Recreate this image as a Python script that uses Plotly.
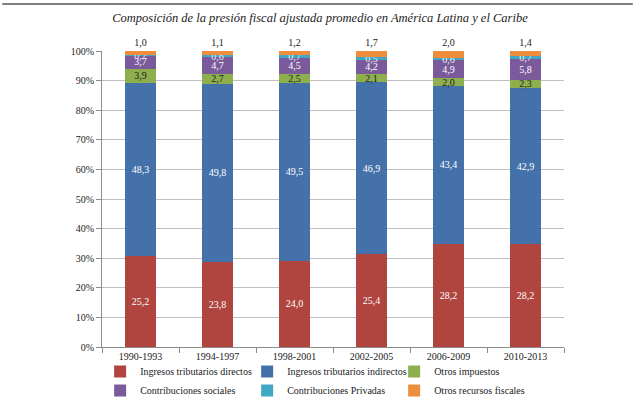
import plotly.graph_objects as go

periods = ["1990-1993", "1994-1997", "1998-2001", "2002-2005", "2006-2009", "2010-2013"]
directos = [25.2, 23.8, 24.0, 25.4, 28.2, 28.2]
indirectos = [48.3, 49.8, 49.5, 46.9, 43.4, 42.9]
otros_impuestos = [3.9, 2.7, 2.5, 2.1, 2.0, 2.3]
sociales = [3.7, 4.7, 4.5, 4.2, 4.9, 5.8]
privadas = [0.2, 0.6, 0.7, 0.5, 0.6, 0.7]
otros_recursos = [1.0, 1.1, 1.2, 1.7, 2.0, 1.4]

y_ticks = [0, 10, 20, 30, 40, 50, 60, 70, 80, 90, 100]
y_ticklabels = [f"{t}%" for t in y_ticks]

series = [
    ("Ingresos tributarios directos", directos, "#B0443F", "white", "inside"),
    ("Ingresos tributarios indirectos", indirectos, "#4471AA", "white", "inside"),
    ("Otros impuestos", otros_impuestos, "#8DAF4E", "#222222", "inside"),
    ("Contribuciones sociales", sociales, "#7A5A9B", "white", "inside"),
    ("Contribuciones Privadas", privadas, "#40A8C4", "#EEEEEE", "inside"),
    ("Otros recursos fiscales", otros_recursos, "#EE8D3E", "#222222", "outside"),
]

FONT = "Liberation Serif"

def fmt(v):
    return f"{v:.1f}".replace(".", ",")

fig = go.Figure()
for name, vals, color, tcolor, pos in series:
    fig.add_trace(go.Bar(
        name=name, x=periods, y=vals,
        marker=dict(color=color, line=dict(width=0)),
        text=[fmt(v) for v in vals],
        textposition=pos,
        insidetextanchor="middle",
        constraintext="none",
        textfont=dict(family=FONT, size=10, color=tcolor),
        outsidetextfont=dict(family=FONT, size=10, color=tcolor),
        insidetextfont=dict(family=FONT, size=10, color=tcolor),
        cliponaxis=False,
        hoverinfo="skip",
    ))

fig.update_layout(
    width=640, height=397,
    barmode="stack", barnorm="percent", bargap=0.6,
    paper_bgcolor="white", plot_bgcolor="white",
    margin=dict(l=102, r=76, t=51, b=50, autoexpand=False),
    font=dict(family=FONT, size=10, color="#222222"),
    title=dict(
        text="<i>Composición de la presión fiscal ajustada promedio en América Latina y el Caribe</i>",
        x=0.5, xref="container", xanchor="center",
        y=1 - 18 / 397, yref="container", yanchor="middle",
        font=dict(family=FONT, size=12.5, color="#222222"),
    ),
    showlegend=True,
    legend=dict(
        orientation="h", x=-0.004, xanchor="left", y=-0.034, yanchor="top",
        entrywidth=102, entrywidthmode="pixels",
        bgcolor="rgba(0,0,0,0)",
        font=dict(family=FONT, size=10, color="#222222"),
        itemsizing="constant", traceorder="normal",
        tracegroupgap=0, itemwidth=30,
    ),
    shapes=[dict(
        type="line", xref="paper", yref="paper",
        x0=-0.216, x1=1.149, y0=1.159, y1=1.159,
        line=dict(color="#555555", width=1.5),
    )],
)

fig.update_xaxes(
    showline=True, linecolor="#8C8C8C", linewidth=1,
    ticks="outside", ticklen=5, tickcolor="#8C8C8C", tickson="boundaries",
    tickfont=dict(family=FONT, size=10, color="#222222"),
    showgrid=False,
)
fig.update_yaxes(
    range=[0, 100],
    tickvals=y_ticks, ticktext=y_ticklabels,
    showline=True, linecolor="#8C8C8C", linewidth=1,
    ticks="outside", ticklen=5, tickcolor="#8C8C8C",
    showgrid=True, gridcolor="#BFBFBF", gridwidth=1,
    tickfont=dict(family=FONT, size=10, color="#222222"),
    zeroline=False,
)

fig.write_html(
    "out.html",
    config={"displayModeBar": False},
    post_script="document.body.style.margin='0';document.body.style.padding='0';document.body.style.overflow='hidden';",
)
